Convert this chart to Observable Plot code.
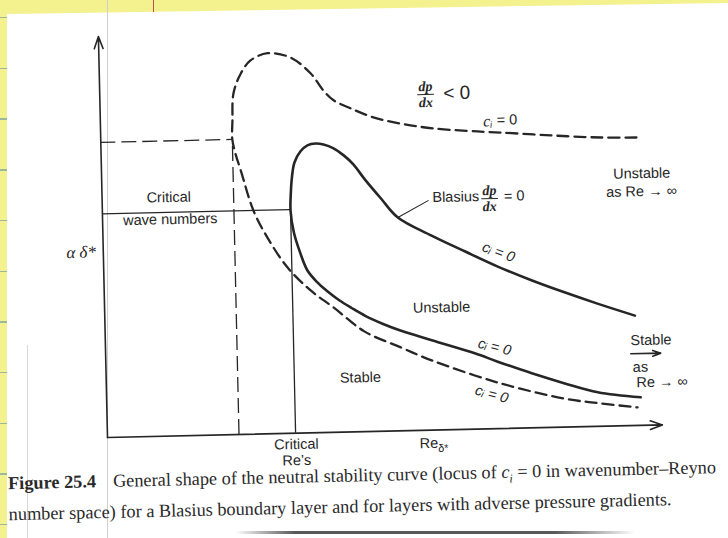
<!DOCTYPE html>
<html>
<head>
<meta charset="utf-8">
<script src="https://cdn.jsdelivr.net/npm/d3@7"></script>
<script src="https://cdn.jsdelivr.net/npm/@observablehq/plot@0.6"></script>
<style>
html, body { margin:0; padding:0; width:728px; height:538px; overflow:hidden; background:#f4f18f; }
#paper { position:absolute; left:0; top:0; width:728px; height:538px; background:#fff;
  clip-path: polygon(7px 14px, 728px 3px, 728px 538px, 7px 538px); }
#rules { position:absolute; left:0; top:0; width:7px; height:538px;
  background: repeating-linear-gradient(to bottom, transparent 0px, transparent 17px, #9ab89a 17px, #9ab89a 18.5px, transparent 18.5px, transparent 50.7px); }
#margin1 { position:absolute; left:107px; top:0; width:1px; height:538px; background:#d0d0d0; }
#margin2 { position:absolute; left:27px; top:345px; width:1px; height:193px; background:#d8d8d8; }
#redline { position:absolute; left:153px; top:0; width:1px; height:12px; background:#c0504d; }
#edge { position:absolute; left:235px; top:531px; width:400px; height:3px; border-radius:2px;
  background: linear-gradient(to right, rgba(60,60,60,0), rgba(60,60,60,0.85) 15%, rgba(60,60,60,0.85) 80%, rgba(60,60,60,0)); }
#stage { position:absolute; left:0; top:0; width:728px; height:538px; transform-origin:107px 437px; transform:rotate(-1.3deg); }
#chart { position:absolute; left:0; top:0; }
#caption { position:absolute; left:7px; top:469px; font-family:"Liberation Serif","DejaVu Serif",serif; font-size:18.3px; line-height:24px; color:#2a2a2a; white-space:nowrap; }
#caption b { margin-right:17px; }
</style>
</head>
<body>
<div id="paper"></div>
<div id="rules"></div>
<div id="margin1"></div>
<div id="margin2"></div>
<div id="redline"></div>
<div id="edge"></div>
<div id="stage">
  <div id="chart"></div>
  <div id="caption">
    <div><b>Figure 25.4</b>General shape of the neutral stability curve (locus of <i>c<sub style="font-size:12px">i</sub></i> = 0 in wavenumber–Reyno</div>
    <div>number space) for a Blasius boundary layer and for layers with adverse pressure gradients.</div>
  </div>
</div>
<script>
// Neutral stability curve, Blasius boundary layer (dp/dx = 0): Re_delta* vs alpha delta* (arbitrary units)
const blasiusRe    = [96.2, 88.5, 82.6, 76.7, 70.6, 66.5, 58.8, 53.2, 50.0, 47.0, 44.5, 42.3, 40.2, 38.3, 36.7, 35.5, 34.4, 33.9, 34.0, 34.3, 34.8, 35.9, 37.2, 38.7, 40.1, 41.9, 43.7, 45.4, 47.4, 50.2, 53.2, 59.2, 65.1, 71.0, 77.0, 82.9, 88.8, 95.5];
const blasiusAlpha = [ 7.0,  8.5, 10.9, 13.6, 16.7, 18.9, 22.4, 25.0, 26.8, 28.8, 30.9, 32.9, 35.2, 37.7, 40.5, 44.8, 50.1, 55.5, 59.5, 64.0, 67.5, 70.2, 71.7, 72.1, 71.8, 70.8, 69.0, 66.7, 62.9, 58.1, 53.2, 48.5, 44.4, 40.4, 36.8, 33.6, 30.6, 27.4];

// Neutral curve for a layer with an adverse pressure gradient
const adverseRe    = [96.5, 90.1, 81.1, 72.1, 67.9, 60.0, 54.1, 49.2, 45.1, 42.1, 40.3, 38.1, 34.5, 30.4, 27.3, 25.5, 24.1, 23.8, 23.7, 24.2, 25.1, 27.2, 29.6, 33.1, 37.2, 41.3, 46.7, 53.2, 58.7, 70.5, 82.5, 89.0, 95.6];
const adverseAlpha = [71.8, 72.0, 72.8, 73.8, 74.2, 75.2, 76.6, 78.3, 80.7, 82.8, 85.3, 89.6, 93.7, 94.9, 93.2, 90.0, 85.1, 78.3, 73.6, 70.1, 65.8, 55.8, 49.0, 41.4, 35.5, 31.1, 25.0, 20.8, 17.4, 11.5,  7.1,  5.7,  4.5];

// Critical points (minimum Re on each neutral curve)
const criticalRe    = [33.9, 23.7];
const criticalAlpha = [55.8, 73.6];
const criticalCurve = ["blasius", "adverse"];

// Plain labels, centred
const centerText  = ["Critical", "wave numbers", "Unstable", "as Re → ∞", "Unstable", "Stable", "Critical", "Re’s"];
const centerRe    = [12.0, 12.2, 97.3, 97.2, 60.7, 45.8, 34.0, 34.0];
const centerAlpha = [59.5, 54.0, 62.8, 58.3, 30.5, 13.5, -2.8, -6.8];

// Plain labels, left-aligned
const startText  = ["Blasius", "= 0", "Stable", "as", "Re → ∞", "Re", "= 0"];
const startRe    = [59.5, 72.4, 94.6, 94.9, 95.5, 56.2, 71.4];
const startAlpha = [58.0, 57.9, 21.2, 14.5, 10.7, -3.3, 76.9];

// c_i = 0 labels along the curves
const ciRe    = [71.2, 70.1, 69.4];
const ciAlpha = [44.0, 20.4,  8.6];
const ciAngle = [21, 15, 17];

// dp/dx fractions
const fracRe    = [58.7, 69.8];
const fracAlpha = [83.7, 57.4];

const byIndex = (xs, f) => xs.map((_, i) => f(i));
const blasius  = byIndex(blasiusRe, i => ({re: blasiusRe[i], alpha: blasiusAlpha[i]}));
const adverse  = byIndex(adverseRe, i => ({re: adverseRe[i], alpha: adverseAlpha[i]}));
const critical = byIndex(criticalRe, i => ({re: criticalRe[i], alpha: criticalAlpha[i], curve: criticalCurve[i]}));
const centerLabels = byIndex(centerText, i => ({re: centerRe[i], alpha: centerAlpha[i], text: centerText[i]}));
const startLabels  = byIndex(startText, i => ({re: startRe[i], alpha: startAlpha[i], text: startText[i]}));
const ciLabels = byIndex(ciRe, i => ({re: ciRe[i], alpha: ciAlpha[i], angle: ciAngle[i]}));
const fractions = byIndex(fracRe, i => ({re: fracRe[i], alpha: fracAlpha[i]}));

const axes = [{x1: 0, y1: 0, x2: 0, y2: 100}, {x1: 0, y1: 0, x2: 100, y2: 0}];
const leader = [{x1: 53.2, y1: 53.2, x2: 58.8, y2: 57.3}];
const stableArrow = [{x1: 94.6, y1: 17.9, x2: 100.0, y2: 17.9}];

const ink = "#262626";
const sans = "'Liberation Sans', Arial, 'DejaVu Sans', sans-serif";
const serif = "'Liberation Serif', 'DejaVu Serif', serif";

const chart = Plot.plot({
  width: 728, height: 470,
  marginLeft: 107, marginRight: 66, marginTop: 36, marginBottom: 33,
  x: {domain: [0, 100], axis: null},
  y: {domain: [0, 100], axis: null},
  style: {background: "transparent", overflow: "visible"},
  marks: [
    // critical-point guide lines
    Plot.ruleY(critical.filter(d => d.curve === "blasius"), {y: "alpha", x1: 0, x2: "re", stroke: ink, strokeWidth: 1.3}),
    Plot.ruleX(critical.filter(d => d.curve === "blasius"), {x: "re", y1: 0, y2: "alpha", stroke: ink, strokeWidth: 1.3}),
    Plot.ruleY(critical.filter(d => d.curve === "adverse"), {y: "alpha", x1: 0, x2: "re", stroke: ink, strokeWidth: 1.3, strokeDasharray: "15,6"}),
    Plot.ruleX(critical.filter(d => d.curve === "adverse"), {x: "re", y1: 0, y2: "alpha", stroke: ink, strokeWidth: 1.3, strokeDasharray: "15,6"}),
    // axes
    Plot.arrow(axes, {x1: "x1", y1: "y1", x2: "x2", y2: "y2", stroke: ink, strokeWidth: 1.6, headLength: 12, headAngle: 40}),
    // curves
    Plot.line(adverse, {x: "re", y: "alpha", curve: "catmull-rom", stroke: ink, strokeWidth: 2.3, strokeDasharray: "11,6"}),
    Plot.line(blasius, {x: "re", y: "alpha", curve: "catmull-rom", stroke: ink, strokeWidth: 2.6}),
    Plot.link(leader, {x1: "x1", y1: "y1", x2: "x2", y2: "y2", stroke: ink, strokeWidth: 1.1}),
    Plot.arrow(stableArrow, {x1: "x1", y1: "y1", x2: "x2", y2: "y2", stroke: ink, strokeWidth: 1.6, headLength: 8, headAngle: 40}),
    // labels
    Plot.text(centerLabels, {x: "re", y: "alpha", text: "text", fill: ink, fontFamily: sans, fontSize: 14.5, textAnchor: "middle"}),
    Plot.text(startLabels, {x: "re", y: "alpha", text: "text", fill: ink, fontFamily: sans, fontSize: 14.5, textAnchor: "start"}),
    Plot.text([{re: 61.9, alpha: 83.9}], {x: "re", y: "alpha", text: () => "< 0", fill: ink, fontFamily: sans, fontSize: 19, textAnchor: "start"}),
    Plot.text([{re: 59.5, alpha: -4.6}], {x: "re", y: "alpha", text: () => "δ*", fill: ink, fontFamily: sans, fontSize: 11, textAnchor: "start"}),
    Plot.text([{re: -4.0, alpha: 46.3}], {x: "re", y: "alpha", text: () => "α δ*", fill: ink, fontFamily: serif, fontStyle: "italic", fontSize: 17, textAnchor: "middle"}),
    Plot.text([{re: 69.8, alpha: 76.7}], {x: "re", y: "alpha", text: () => "cᵢ", fill: ink, fontFamily: serif, fontStyle: "italic", fontSize: 16, textAnchor: "middle"}),
    Plot.text(ciLabels, {x: "re", y: "alpha", rotate: "angle", text: () => "cᵢ = 0", fill: ink, fontFamily: sans, fontStyle: "italic", fontSize: 14.5, textAnchor: "middle"}),
    // dp/dx fractions
    Plot.text(fractions, {x: "re", y: "alpha", dy: -8, text: () => "dp", fill: ink, fontFamily: serif, fontStyle: "italic", fontWeight: "bold", fontSize: 14, textAnchor: "middle"}),
    Plot.text(fractions, {x: "re", y: "alpha", dy: 8, text: () => "dx", fill: ink, fontFamily: serif, fontStyle: "italic", fontWeight: "bold", fontSize: 14, textAnchor: "middle"}),
    Plot.link(fractions, {x1: d => d.re - 1.5, x2: d => d.re + 1.5, y1: "alpha", y2: "alpha", stroke: ink, strokeWidth: 1})
  ]
});
document.getElementById("chart").appendChild(chart);
</script>
</body>
</html>
